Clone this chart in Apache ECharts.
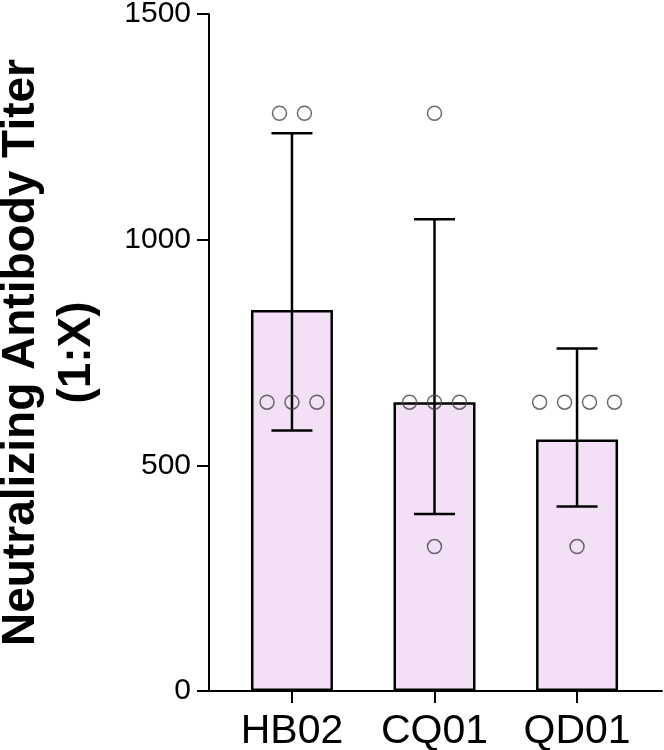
<!DOCTYPE html>
<html>
<head>
<meta charset="utf-8">
<script src="https://cdn.jsdelivr.net/npm/echarts@6/dist/echarts.min.js"></script>
<style>
  html, body { margin: 0; padding: 0; background: #fff; }
  #chart { width: 664px; height: 750px; }
</style>
</head>
<body>
<div id="chart"></div>
<script>
// groups on the x axis
var categories = ['HB02', 'CQ01', 'QD01'];
// bar heights (geometric mean titer)
var geoMeans = [844, 640, 557];
// error bar ends
var errLower = [577, 392, 409];
var errUpper = [1236, 1045, 759];
// individual titers per group
var hb02Points = [1280, 1280, 640, 640, 640];
var cq01Points = [1280, 640, 640, 640, 320];
var qd01Points = [640, 640, 640, 640, 320];
var yTicks = [0, 500, 1000, 1500];

var groupPoints = [hb02Points, cq01Points, qd01Points];
var font = "'Liberation Sans', Arial, sans-serif";

// spread equal values side by side, centred on the group
var jitterStep = 0.175;
var scatterData = [];
groupPoints.forEach(function (pts, gi) {
  var counts = {};
  pts.forEach(function (v) { counts[v] = (counts[v] || 0) + 1; });
  var seen = {};
  pts.forEach(function (v) {
    var n = counts[v];
    var k = seen[v] || 0;
    seen[v] = k + 1;
    scatterData.push([gi + (k - (n - 1) / 2) * jitterStep, v]);
  });
});

var barData = geoMeans.map(function (v, i) { return [i, v]; });
var errData = geoMeans.map(function (v, i) { return [i, errLower[i], errUpper[i]]; });

var myChart = echarts.init(document.getElementById('chart'));
var option = {
  animation: false,
  backgroundColor: '#fff',
  grid: { left: 209, right: 2, top: 14, bottom: 59, containLabel: false, outerBoundsMode: 'none' },
  xAxis: {
    type: 'value',
    min: -0.582,
    max: 2.596,
    splitLine: { show: false },
    axisLine: { show: true, onZero: false, lineStyle: { color: '#000', width: 2 } },
    axisTick: { show: true, customValues: [0, 1, 2], length: 12, lineStyle: { color: '#000', width: 2 } },
    axisLabel: {
      customValues: [0, 1, 2],
      formatter: function (v) { return categories[Math.round(v)]; },
      color: '#000', fontSize: 41, fontFamily: font, margin: 20
    }
  },
  yAxis: {
    type: 'value',
    min: yTicks[0],
    max: yTicks[yTicks.length - 1],
    interval: 500,
    splitLine: { show: false },
    axisLine: { show: true, onZero: false, lineStyle: { color: '#000', width: 2 } },
    axisTick: { show: true, length: 12, lineStyle: { color: '#000', width: 2 } },
    axisLabel: {
      color: '#000', fontSize: 30, fontFamily: font, margin: 18,
      formatter: function (v) { return String(v); }
    },
    name: 'Neutralizing Antibody Titer\n(1:X)',
    nameLocation: 'middle',
    nameRotate: 90,
    nameGap: 104,
    nameTextStyle: { color: '#000', fontSize: 46, fontWeight: 'bold', fontFamily: font, lineHeight: 56 }
  },
  series: [
    {
      type: 'bar',
      data: barData,
      barWidth: 82,
      itemStyle: { color: '#f3e0f7', borderColor: '#000', borderWidth: 2.5 },
      z: 1,
      silent: true
    },
    {
      type: 'custom',
      data: errData,
      z: 3,
      silent: true,
      renderItem: function (params, api) {
        var x = api.value(0);
        var lo = api.coord([x, api.value(1)]);
        var hi = api.coord([x, api.value(2)]);
        var half = 20.5;
        var st = { stroke: '#000', lineWidth: 2.5 };
        return {
          type: 'group',
          children: [
            { type: 'line', shape: { x1: lo[0], y1: lo[1], x2: hi[0], y2: hi[1] }, style: st },
            { type: 'line', shape: { x1: hi[0] - half, y1: hi[1], x2: hi[0] + half, y2: hi[1] }, style: st },
            { type: 'line', shape: { x1: lo[0] - half, y1: lo[1], x2: lo[0] + half, y2: lo[1] }, style: st }
          ]
        };
      }
    },
    {
      type: 'scatter',
      data: scatterData,
      symbol: 'circle',
      symbolSize: 14,
      itemStyle: { color: 'rgba(0,0,0,0)', borderColor: '#444', borderWidth: 1.5 },
      z: 4,
      silent: true
    }
  ]
};
myChart.setOption(option);
</script>
</body>
</html>
